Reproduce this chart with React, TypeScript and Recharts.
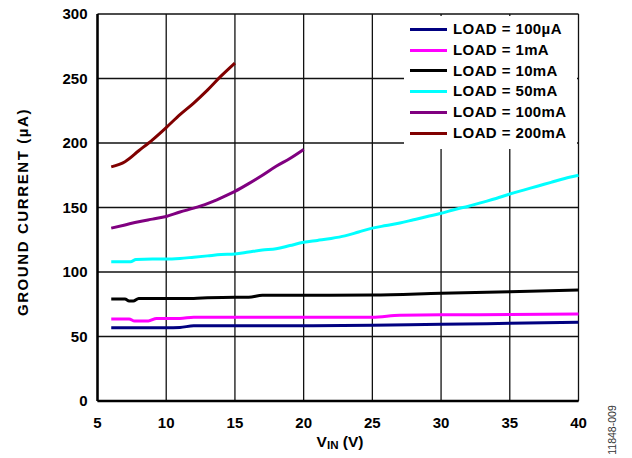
import { LineChart, Line, XAxis, YAxis, CartesianGrid, Legend, Label } from "recharts"

// V_IN values (V) and ground current (µA) per load
const vin100uA = [6, 8, 10, 11, 12, 15, 20, 25, 30, 35, 40]
const gnd100uA = [56.8, 56.8, 56.8, 57, 58.3, 58.3, 58.3, 58.7, 59.4, 60.2, 61]

const vin1mA = [6, 7.3, 7.7, 8.7, 9.3, 11, 12, 15, 20, 25, 27, 30, 35, 40]
const gnd1mA = [63.6, 63.6, 62, 62, 64, 64, 65, 65, 65, 65, 66.5, 66.8, 67, 67.4]

const vin10mA = [6, 7, 7.3, 7.6, 8, 10, 12, 13, 15, 16, 17, 20, 25, 30, 35, 40]
const gnd10mA = [79, 79, 77.5, 77.5, 79.5, 79.5, 79.5, 80, 80.5, 80.5, 82, 82, 82.2, 83.5, 84.7, 86]

const vin50mA = [6, 7, 7.4, 7.8, 9, 10, 11, 12, 13, 14, 15, 16, 17, 18, 19, 20, 21, 22, 23, 24, 25, 26, 27, 28, 29, 30, 31, 32, 33, 34, 35, 36, 37, 38, 39, 40]
const gnd50mA = [108, 108, 108, 109.6, 110, 110, 110.5, 111.5, 112.5, 113.5, 114, 115.5, 117, 118, 120.5, 123, 124.5, 126, 128, 131, 134, 136, 138, 140.5, 143, 145.5, 148.5, 151, 154, 157, 160.5, 163.5, 166.5, 169.5, 172.5, 175]

const vin100mA = [6, 7, 8, 9, 10, 11, 12, 13, 14, 15, 16, 17, 18, 19, 20]
const gnd100mA = [134, 136.5, 139, 141, 143, 146.5, 149.5, 153, 157.5, 162.5, 168.5, 175, 182, 188, 195]

const vin200mA = [6, 7, 8, 9, 10, 11, 12, 13, 14, 15]
const gnd200mA = [181.5, 185.5, 194, 202.5, 212, 222, 231, 241, 252, 262]

const xTicks = [5, 10, 15, 20, 25, 30, 35, 40]
const yTicks = [0, 50, 100, 150, 200, 250, 300]

const toRows = (xs: number[], ys: number[]) => xs.map((v, i) => ({ vin: v, ig: ys[i] }))

const series = [
  { name: "LOAD = 100µA", color: "#000080", data: toRows(vin100uA, gnd100uA) },
  { name: "LOAD = 1mA", color: "#ff00ff", data: toRows(vin1mA, gnd1mA) },
  { name: "LOAD = 10mA", color: "#000000", data: toRows(vin10mA, gnd10mA) },
  { name: "LOAD = 50mA", color: "#00ffff", data: toRows(vin50mA, gnd50mA) },
  { name: "LOAD = 100mA", color: "#800080", data: toRows(vin100mA, gnd100mA) },
  { name: "LOAD = 200mA", color: "#800000", data: toRows(vin200mA, gnd200mA) },
]

const font = "'Liberation Sans', Arial, Helvetica, sans-serif"
const tickStyle = { fill: "#000", fontSize: 15, fontWeight: 700, fontFamily: font }

function LegendBox() {
  return (
    <div style={{ paddingTop: 3, fontFamily: font, fontWeight: 700, fontSize: 15, color: "#000" }}>
      {series.map((s) => (
        <div key={s.name} style={{ height: 20.8, lineHeight: "20.8px", display: "flex", alignItems: "center" }}>
          <span style={{ display: "inline-block", width: 37, height: 3, background: s.color, marginLeft: 6, marginRight: 6 }} />
          <span style={{ letterSpacing: 0.4, whiteSpace: "nowrap" }}>{s.name}</span>
        </div>
      ))}
    </div>
  )
}

export default function App() {
  return (
    <div style={{ position: "absolute", left: 0, top: 0, background: "#fff" }}>
      <LineChart width={632} height={458} margin={{ top: 14, right: 53.5, bottom: 27, left: 37.5 }}>
        <CartesianGrid stroke="#111" strokeWidth={1.3} />
        <XAxis
          type="number"
          dataKey="vin"
          domain={[5, 40]}
          ticks={xTicks}
          allowDuplicatedCategory={false}
          tickLine={false}
          axisLine={{ stroke: "#000", strokeWidth: 2.5 }}
          tick={tickStyle}
          tickMargin={10}
          height={30}
        >
          <Label
            content={() => (
              <g>
                <text x={340} y={447} textAnchor="middle" fontFamily={font} fontWeight={700} fontSize={15.5} fill="#000">
                  V<tspan fontSize={11.5} dy={2}>IN</tspan>
                  <tspan dy={-2}> (V)</tspan>
                </text>
                <text
                  x={616}
                  y={430}
                  transform="rotate(-90 616 430)"
                  textAnchor="middle"
                  fontFamily={font}
                  fontSize={10.5}
                  fill="#333"
                >
                  11848-009
                </text>
              </g>
            )}
          />
        </XAxis>
        <YAxis
          type="number"
          domain={[0, 300]}
          ticks={yTicks}
          tickLine={false}
          axisLine={{ stroke: "#000", strokeWidth: 2.5 }}
          tick={tickStyle}
          tickMargin={4}
          width={60}
        >
          <Label
            content={() => (
              <text
                x={28}
                y={212}
                transform="rotate(-90 28 212)"
                textAnchor="middle"
                fontFamily={font}
                fontWeight={700}
                fontSize={15}
                letterSpacing={1.6}
                fill="#000"
              >
                GROUND CURRENT (µA)
              </text>
            )}
          />
        </YAxis>
        {series.map((s) => (
          <Line
            key={s.name}
            data={s.data}
            dataKey="ig"
            name={s.name}
            type="monotone"
            stroke={s.color}
            strokeWidth={3}
            dot={false}
            isAnimationActive={false}
          />
        ))}
        <Legend
          layout="vertical"
          align="center"
          verticalAlign="middle"
          content={() => <LegendBox />}
          wrapperStyle={{ position: "absolute", left: 404, top: 16, width: 173, height: 133, background: "#fff" }}
        />
      </LineChart>
    </div>
  )
}
